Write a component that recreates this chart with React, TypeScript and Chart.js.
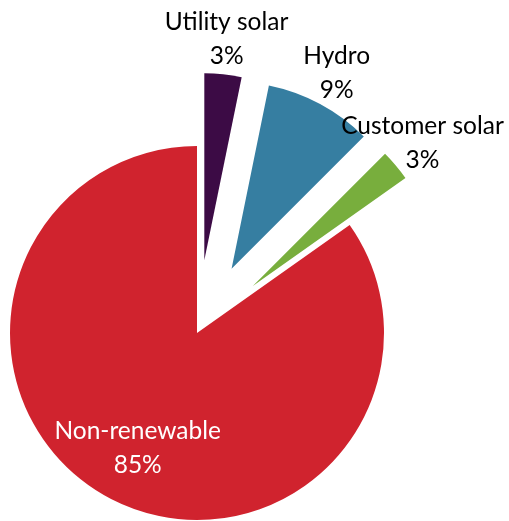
import React, { useEffect, useRef } from "react";
import { Chart, registerables } from "chart.js";

Chart.register(...registerables);

const categories = ["Utility solar", "Hydro", "Customer solar", "Non-renewable"];
const shares = [3.2, 9.3, 2.7, 84.8];
const percentLabels = ["3%", "9%", "3%", "85%"];

const explodePlugin = {
  id: "explode",
  beforeDatasetDraw(chart: any, args: any, opts: any) {
    const ctx = chart.ctx;
    const dist: number[] = opts.distances || [];
    args.meta.data.forEach((arc: any, i: number) => {
      const d = dist[i] || 0;
      const mid = (arc.startAngle + arc.endAngle) / 2;
      ctx.save();
      ctx.translate(Math.cos(mid) * d, Math.sin(mid) * d);
      arc.draw(ctx, chart.chartArea);
      ctx.restore();
    });
    return false;
  },
};

const labelPlugin = {
  id: "sliceLabels",
  afterDatasetsDraw(chart: any, _args: any, opts: any) {
    const ctx = chart.ctx;
    const meta = chart.getDatasetMeta(0);
    const dist: number[] = chart.options.plugins.explode.distances || [];
    meta.data.forEach((arc: any, i: number) => {
      const d = dist[i] || 0;
      const mid = (arc.startAngle + arc.endAngle) / 2;
      const R = arc.outerRadius;
      const cx = arc.x + Math.cos(mid) * d;
      const cy = arc.y + Math.sin(mid) * d;
      const inside = shares[i] >= 10;
      const r = inside ? R * 0.69 : R + 35;
      const ax = cx + Math.cos(mid) * r;
      const ay = cy + Math.sin(mid) * r;
      ctx.save();
      ctx.font = opts.font;
      ctx.fillStyle = inside ? "#ffffff" : "#000000";
      ctx.textAlign = "center";
      ctx.textBaseline = "middle";
      ctx.fillText(categories[i], ax, ay - 17);
      ctx.fillText(percentLabels[i], ax, ay + 17);
      ctx.restore();
    });
  },
};

export default function App() {
  const ref = useRef<HTMLCanvasElement | null>(null);

  useEffect(() => {
    if (!ref.current) return;
    const chart = new Chart(ref.current, {
      type: "pie",
      data: {
        labels: categories,
        datasets: [
          {
            data: shares,
            backgroundColor: ["#3c0b45", "#367ea1", "#78ae3d", "#d0232e"],
            borderWidth: 0,
          },
        ],
      },
      options: {
        responsive: false,
        animation: false,
        radius: 187,
        layout: { padding: { left: 0, right: 115, top: 145, bottom: 0 } },
        plugins: {
          legend: { display: false },
          tooltip: { enabled: false },
          explode: { distances: [73, 73, 73, 0] },
          sliceLabels: { font: "24.5px Lato" },
        } as any,
      } as any,
      plugins: [explodePlugin, labelPlugin],
    });
    return () => chart.destroy();
  }, []);

  return (
    <div style={{ position: "fixed", left: 0, top: 0, width: 509, height: 521, background: "#fff" }}>
      <canvas ref={ref} width={509} height={521} style={{ width: 509, height: 521 }} />
    </div>
  );
}
